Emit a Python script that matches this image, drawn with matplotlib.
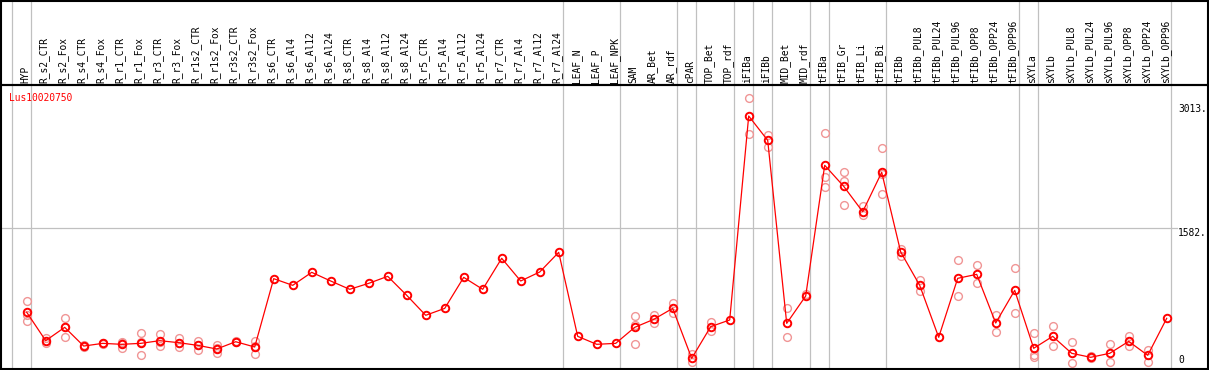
import numpy as np
from matplotlib import pyplot as plt
from matplotlib.patches import Rectangle
from matplotlib.transforms import blended_transform_factory

# sample names, left to right
names = ['HYP', 'R_s2_CTR', 'R_s2_Fox', 'R_s4_CTR', 'R_s4_Fox', 'R_r1_CTR', 'R_r1_Fox',
         'R_r3_CTR', 'R_r3_Fox', 'R_r1s2_CTR', 'R_r1s2_Fox', 'R_r3s2_CTR', 'R_r3s2_Fox',
         'R_s6_CTR', 'R_s6_Al4', 'R_s6_Al12', 'R_s6_Al24', 'R_s8_CTR', 'R_s8_Al4',
         'R_s8_Al12', 'R_s8_Al24', 'R_r5_CTR', 'R_r5_Al4', 'R_r5_Al12', 'R_r5_Al24',
         'R_r7_CTR', 'R_r7_Al4', 'R_r7_Al12', 'R_r7_Al24', 'LEAF_N', 'LEAF_P', 'LEAF_NPK',
         'SAM', 'AR_Bet', 'AR_rdf', 'cPAR', 'TOP_Bet', 'TOP_rdf', 'iFIBa', 'iFIBb',
         'MID_Bet', 'MID_rdf', 'tFIBa', 'tFIB_Gr', 'tFIB_Li', 'tFIB_Bi', 'tFIBb',
         'tFIBb_PUL8', 'tFIBb_PUL24', 'tFIBb_PUL96', 'tFIBb_OPP8', 'tFIBb_OPP24',
         'tFIBb_OPP96', 'sXYLa', 'sXYLb', 'sXYLb_PUL8', 'sXYLb_PUL24', 'sXYLb_PUL96',
         'sXYLb_OPP8', 'sXYLb_OPP24', 'sXYLb_OPP96']

# mean expression per sample
means = [609, 281, 435, 219, 250, 239, 250, 281, 258, 227, 185, 269, 208,
         997, 920, 1070, 970, 874, 943, 1024, 805, 574, 654, 1012, 874,
         1232, 970, 1074, 1301, 331, 239, 250,
         435, 527, 654, 77, 443, 520, 2875, 2594, 481, 797,
         2306, 2063, 1770, 2225, 1305, 920, 320, 1001, 1047, 485, 862,
         193, 331, 135, 89, 135, 273, 112, 539]

# replicate values per sample
reps = [[739, 577, 508], [308, 257], [539, 440, 327], [227, 211], [258, 242],
        [266, 250, 200], [366, 265, 119], [358, 266, 219], [308, 255, 211],
        [277, 231, 173], [227, 193, 135], [277, 262], [277, 216, 131],
        [], [], [], [], [], [], [], [], [], [], [], [], [], [], [], [], [], [], [],
        [562, 462, 239], [581, 481], [716, 597], [127, 38], [500, 396], [],
        [3079, 2667], [2656, 2521], [654, 323], [820],
        [2679, 2175, 2059], [2225, 2125, 1844], [1836, 1732], [2502, 2202, 1971],
        [1343, 1262], [981, 858], [], [1209, 800], [1151, 943], [574, 378], [1116, 597],
        [366, 115, 89], [450, 219], [262, 20], [100, 80], [239, 31], [339, 219],
        [173, 38], []]

# vertical separators come after these sample counts
group_ends = [0, 1, 29, 32, 35, 36, 38, 39, 40, 42, 43, 46, 53, 54, 61]
gene = 'Lus10020750'
ymax_label = 3013
ymid_label = 1582

W, H = 1209, 370
fig = plt.figure(figsize=(W / 100, H / 100), dpi=100)

# data panel: px x 1..1208, y 85..369
ax = fig.add_axes([1 / W, 1 / H, 1207 / W, 284 / H])
ax.set_xlim((1 - 26.7) / 19, (1208 - 26.7) / 19)
ax.set_ylim(-46, 3233)
ax.set_xticks([])
ax.set_yticks([])
for s in ax.spines.values():
    s.set_linewidth(1.5)
    s.set_color('black')

mono = 'DejaVu Sans Mono'
x = np.arange(len(names))
red = '#ff0000'
pink = '#f09595'

# group separators, through header too
for g in group_ends:
    ax.axvline(g - 1 + 0.2, ymin=0, ymax=1.3, color='#c0c0c0', lw=0.9,
               clip_on=False, zorder=0)

# horizontal guide line
ax.plot([ax.get_xlim()[0], (1177 - 26.7) / 19], [ymid_label, ymid_label],
        color='#c0c0c0', lw=0.9, zorder=0)

# replicates
for i, r in enumerate(reps):
    if r:
        ax.plot([i] * len(r), r, 'o', ms=5.6, mfc='none', mec=pink, mew=1.0, zorder=2)

ax.plot(x, means, '-', color=red, lw=0.9, zorder=3)
ax.plot(x, means, 'o', ms=5.4, mfc='none', mec=red, mew=1.4, zorder=4)

# header labels
tr = blended_transform_factory(ax.transData, ax.transAxes)
for i, n in enumerate(names):
    ax.text(i - 0.08, 1.007, n, transform=tr, rotation=90, ha='center', va='bottom',
            family=mono, fontsize=6.9, color='black', clip_on=False)

# header box
fig.patches.append(Rectangle((1 / W, 284 / H + 1 / H), 1207 / W, 85 / H - 1.5 / H,
                             transform=fig.transFigure, fill=False, lw=1.5,
                             edgecolor='black'))

fig.text(9 / W, (H - 98) / H, gene, family=mono, fontsize=6.9, color=red,
         va='center', ha='left')

# value labels on the right
lx = (1178 - 26.7) / 19
ax.text(lx, ymax_label, '%d.' % ymax_label, family=mono, fontsize=6.9, va='top', ha='left')
ax.text(lx, ymid_label, '%d.' % ymid_label, family=mono, fontsize=6.9, va='top', ha='left')
ax.text(lx, 0, '0', family=mono, fontsize=6.9, va='bottom', ha='left')

plt.savefig('out.png', dpi=100)
